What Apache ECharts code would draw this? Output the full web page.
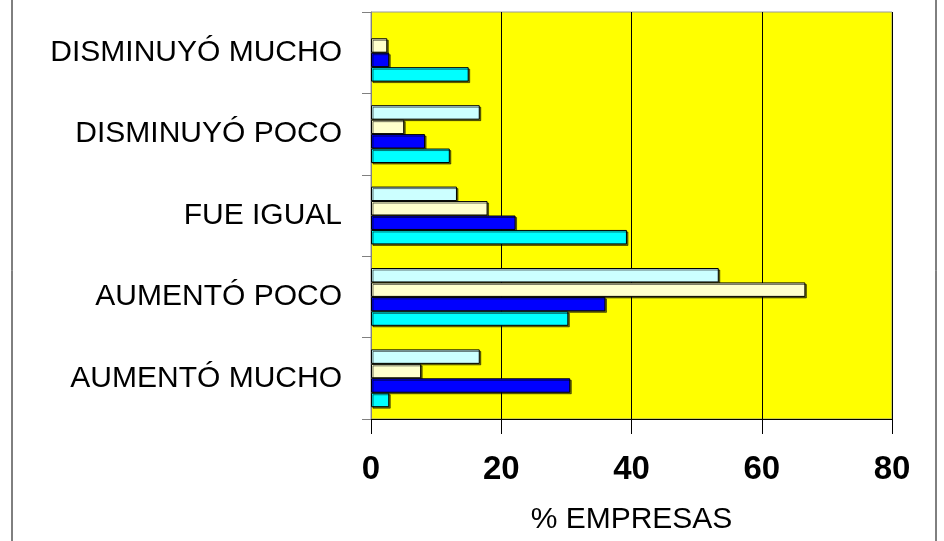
<!DOCTYPE html>
<html>
<head>
<meta charset="utf-8">
<script src="https://cdn.jsdelivr.net/npm/echarts@6/dist/echarts.min.js"></script>
<style>
  html, body { margin: 0; padding: 0; background: #fff; }
  #chart { width: 944px; height: 541px; }
</style>
</head>
<body>
<div id="chart"></div>
<script>
// categories bottom -> top, as the value axis reads them
const categories = ['AUMENTÓ MUCHO', 'AUMENTÓ POCO', 'FUE IGUAL', 'DISMINUYÓ POCO', 'DISMINUYÓ MUCHO']

// series in drawing order inside each band (top bar first)
const paleVals = [16.7, 53.4, 13.2, 16.7, 0]
const creamVals = [7.7, 66.7, 17.9, 5.1, 2.5]
const blueVals = [30.6, 36.0, 22.2, 8.3, 2.8]
const cyanVals = [2.8, 30.3, 39.3, 12.1, 15.0]

const xTicks = { min: 0, max: 80, interval: 20 }

const FONT = '"Liberation Sans", Arial, sans-serif'

function barSeries(data, color) {
  return {
    type: 'bar',
    // a zero bar is not drawn at all in the original
    data: data.map(v => (v === 0 ? '-' : v)),
    barGap: '0%',
    barCategoryGap: '29%',
    itemStyle: {
      color,
      borderColor: '#000',
      borderWidth: 1,
      shadowColor: 'rgba(0,0,0,0.55)',
      shadowOffsetX: 1.5,
      shadowOffsetY: 1.5,
      shadowBlur: 0
    },
    emphasis: { disabled: true },
    animation: false
  }
}

const chart = echarts.init(document.getElementById('chart'))
chart.setOption({
  animation: false,
  grid: {
    left: 371, right: 52, top: 12, bottom: 122,
    show: true, backgroundColor: '#ffff00', borderColor: '#9a9a9a', borderWidth: 1
  },
  xAxis: {
    type: 'value',
    min: xTicks.min, max: xTicks.max, interval: xTicks.interval,
    name: '% EMPRESAS',
    nameLocation: 'middle',
    nameGap: 86,
    nameTextStyle: { fontFamily: FONT, fontSize: 30, color: '#000' },
    axisLine: { show: true, lineStyle: { color: '#000', width: 1 } },
    axisTick: { show: true, length: 15, lineStyle: { color: '#000' } },
    axisLabel: { fontFamily: FONT, fontSize: 33, fontWeight: 'bold', color: '#000', margin: 34 },
    splitLine: { show: true, lineStyle: { color: '#000', width: 1 } }
  },
  yAxis: {
    type: 'category',
    data: categories,
    axisLine: { show: true, lineStyle: { color: '#808080', width: 1 } },
    axisTick: { show: true, length: 9, inside: false, lineStyle: { color: '#808080' } },
    axisLabel: { fontFamily: FONT, fontSize: 30, color: '#000', margin: 29 },
    splitLine: { show: false }
  },
  series: [
    barSeries(paleVals, '#ccffff'),
    barSeries(creamVals, '#ffffcc'),
    barSeries(blueVals, '#0000ff'),
    barSeries(cyanVals, '#00ffff')
  ],
  graphic: [
    { type: 'rect', silent: true, shape: { x: 12, y: -5, width: 924, height: 560 },
      style: { fill: null, stroke: '#000', lineWidth: 1 } }
  ]
})
</script>
</body>
</html>
